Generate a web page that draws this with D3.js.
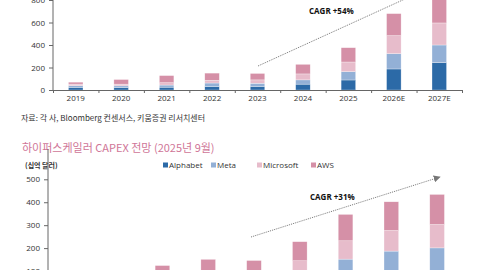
<!DOCTYPE html>
<html>
<head>
<meta charset="utf-8">
<script src="https://cdn.jsdelivr.net/npm/d3@7"></script>
<style>
  body { margin: 0; background: #fff; }
  svg { display: block; font-family: "Noto Sans CJK KR", "Noto Sans", sans-serif; }
</style>
</head>
<body>
<div id="container"></div>
<script>
"use strict";

const width = 480;
const height = 270;

const years = ["2019", "2020", "2021", "2022", "2023", "2024", "2025", "2026E", "2027E"];
const seriesNames = ["Alphabet", "Meta", "Microsoft", "AWS"];
const colors = ["#2c6aa7", "#93b0d6", "#e7bccb", "#d590a7"];

// top chart (partially visible)
const topAlphabet = [23.5, 22, 25, 31, 32, 52, 89, 187, 243];
const topMeta = [15, 15, 19, 31, 28, 38, 74, 136, 157];
const topMicrosoft = [14, 15, 21, 24, 30, 53, 86, 160, 196];
const topAWS = [17, 41, 63, 64, 57, 85, 127, 196, 215];
const topTicks = [0, 200, 400, 600, 800];

// bottom chart: 2025년 9월 전망
const botAlphabet = [23.5, 22, 25, 31, 32, 52, 88, 92, 98];
const botMeta = [15, 15, 19, 31, 28, 38, 64, 95, 103];
const botMicrosoft = [14, 15, 21, 24, 30, 55, 80, 90, 102];
const botAWS = [17, 41, 59, 65, 56, 83, 115, 125, 131];
const botTicks = [0, 100, 200, 300, 400, 500];

const textColor = "#333";
const axisColor = "#666";

const svg = d3
  .select("#container")
  .append("svg")
  .attr("width", width)
  .attr("height", height);

const defs = svg.append("defs");
defs
  .append("marker")
  .attr("id", "arrow")
  .attr("viewBox", "0 0 10 10")
  .attr("refX", 9)
  .attr("refY", 5)
  .attr("markerWidth", 7)
  .attr("markerHeight", 7)
  .attr("orient", "auto")
  .append("path")
  .attr("d", "M0,0 L10,5 L0,10 z")
  .attr("fill", "#777");

const drawChart = (opts) => {
  const { series, x0, x1, yScale, ticks, cagr } = opts;

  const xScale = d3
    .scaleBand()
    .domain(years)
    .range([x0, x1])
    .paddingInner(0.68)
    .paddingOuter(0.34);

  const tickScale = d3.scaleLinear().domain([0, years.length]).range([x0, x1]);

  const rows = years.map((year, i) => {
    const row = { year };
    seriesNames.forEach((name, j) => (row[name] = series[j][i]));
    return row;
  });

  const stacked = d3.stack().keys(seriesNames)(rows);

  const g = svg.append("g");

  g.selectAll("g.layer")
    .data(stacked)
    .enter()
    .append("g")
    .attr("class", "layer")
    .attr("fill", (_d, i) => colors[i])
    .selectAll("rect")
    .data((d) => d)
    .enter()
    .append("rect")
    .attr("x", (d) => xScale(d.data.year))
    .attr("y", (d) => yScale(d[1]))
    .attr("width", xScale.bandwidth())
    .attr("height", (d) => yScale(d[0]) - yScale(d[1]))
    .attr("stroke", "rgba(255,255,255,0.6)")
    .attr("stroke-width", 0.5);

  // y axis
  const yAxis = g
    .append("g")
    .attr("transform", `translate(${x0}, 0)`)
    .call(d3.axisLeft(yScale).tickValues(ticks).tickSize(4).tickPadding(4));
  yAxis.select(".domain").attr("stroke", axisColor).attr("d", `M0,${yScale.range()[0]}V${yScale.range()[1] - 30}`);
  yAxis.selectAll(".tick line").attr("stroke", axisColor);
  yAxis
    .selectAll("text")
    .attr("fill", textColor)
    .style("font-size", "8px")
    .style("font-family", "'Open Sans', sans-serif");

  // x axis boundary ticks
  const xTicks = g
    .append("g")
    .attr("transform", `translate(0, ${yScale(0)})`)
    .call(
      d3
        .axisBottom(tickScale)
        .tickValues(d3.range(0, years.length + 1))
        .tickFormat("")
        .tickSize(3)
        .tickSizeOuter(0)
    );
  xTicks.selectAll("path, line").attr("stroke", axisColor);

  const xLabels = g
    .append("g")
    .attr("transform", `translate(0, ${yScale(0)})`)
    .call(d3.axisBottom(xScale).tickSize(0).tickPadding(5));
  xLabels.select(".domain").remove();
  xLabels
    .selectAll("text")
    .attr("fill", textColor)
    .style("font-size", "8px")
    .style("font-family", "'Open Sans', sans-serif");

  // CAGR annotation
  g.append("line")
    .attr("x1", cagr.line[0])
    .attr("y1", cagr.line[1])
    .attr("x2", cagr.line[2])
    .attr("y2", cagr.line[3])
    .attr("stroke", "#777")
    .attr("stroke-width", 1)
    .attr("stroke-dasharray", "1,1")
    .attr("marker-end", "url(#arrow)");

  g.append("text")
    .attr("x", cagr.pos[0])
    .attr("y", cagr.pos[1])
    .attr("dy", "0.35em")
    .attr("fill", "#111")
    .style("font-size", "8px")
    .style("font-weight", "bold")
    .style("font-family", "'Open Sans', sans-serif")
    .text(cagr.label);
};

// top chart
drawChart({
  series: [topAlphabet, topMeta, topMicrosoft, topAWS],
  x0: 53,
  x1: 462,
  yScale: d3.scaleLinear().domain([0, 800]).range([90, 0]),
  ticks: topTicks,
  cagr: { line: [258, 66, 440, -17], pos: [309, 11], label: "CAGR +54%" },
});

svg
  .append("text")
  .attr("x", 21)
  .attr("y", 118)
  .attr("dy", "0.35em")
  .attr("fill", textColor)
  .style("font-size", "8px")
  .text("자료: 각 사, Bloomberg 컨센서스, 키움증권 리서치센터");

// bottom chart title
svg
  .append("text")
  .attr("x", 22)
  .attr("y", 148)
  .attr("dy", "0.35em")
  .attr("fill", "#cf7597")
  .style("font-size", "11px")
  .text("하이퍼스케일러 CAPEX 전망 (2025년 9월)");

svg
  .append("text")
  .attr("x", 25)
  .attr("y", 166)
  .attr("dy", "0.35em")
  .attr("fill", textColor)
  .style("font-size", "7px")
  .style("font-weight", "bold")
  .text("(십억 달러)");

// legend
const legendX = [163, 211, 257, 311];
const legend = svg
  .selectAll("g.legend")
  .data(seriesNames)
  .enter()
  .append("g")
  .attr("class", "legend")
  .attr("transform", (_d, i) => `translate(${legendX[i]}, 165)`);

legend
  .append("rect")
  .attr("x", 0)
  .attr("y", -2.5)
  .attr("width", 5)
  .attr("height", 5)
  .attr("fill", (_d, i) => colors[i]);

legend
  .append("text")
  .attr("x", 6)
  .attr("dy", "0.35em")
  .attr("fill", textColor)
  .style("font-size", "8px")
  .style("font-family", "'Open Sans', sans-serif")
  .text((d) => d);

drawChart({
  series: [botAlphabet, botMeta, botMicrosoft, botAWS],
  x0: 48,
  x1: 460,
  yScale: d3.scaleLinear().domain([0, 500]).range([294, 179.3]),
  ticks: botTicks,
  cagr: { line: [251, 237, 440, 177], pos: [310, 197], label: "CAGR +31%" },
});
</script>
</body>
</html>
